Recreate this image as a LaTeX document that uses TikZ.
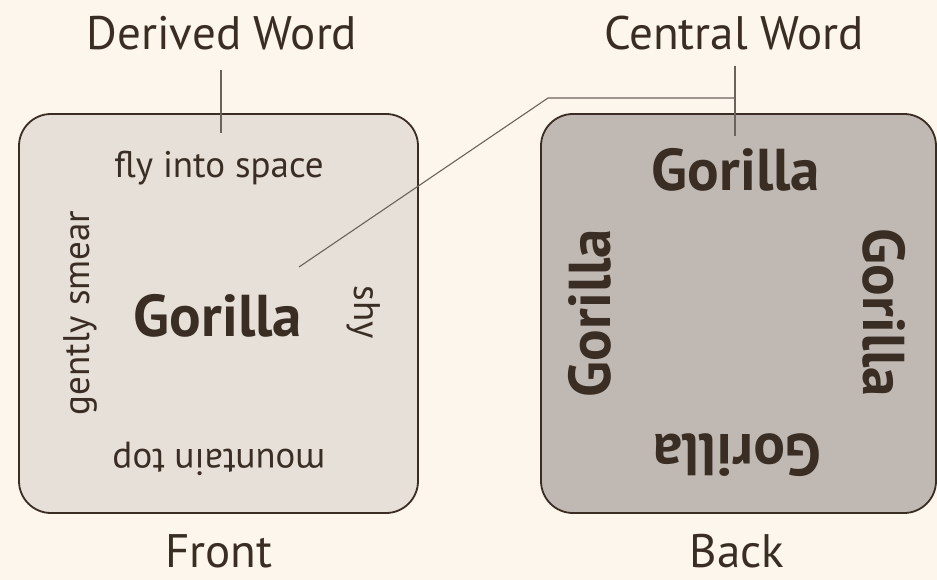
\documentclass[tikz,border=0pt]{standalone}
\usepackage{fontspec}
\setmainfont{PT Sans}
\definecolor{bg}{HTML}{FDF6EC}
\definecolor{ink}{HTML}{3A2E24}
\definecolor{frontfill}{HTML}{E7E0D8}
\definecolor{backfill}{HTML}{C0B8B2}
\definecolor{leader}{HTML}{6B625C}
\begin{document}
\begin{tikzpicture}[x=1pt,y=-1pt,
  card/.style={draw=ink,line width=1.8pt,rounded corners=32pt},
  caption/.style={text=ink,font=\fontsize{47}{52}\selectfont},
  word/.style={text=ink,font=\fontsize{37}{42}\selectfont},
  big/.style={text=ink,font=\fontsize{59}{64}\selectfont\bfseries},
  leaderline/.style={draw=leader,line width=1.1pt}]
\fill[bg] (0,0) rectangle (937,580);
\useasboundingbox (0,0) rectangle (937,580);
% cards
\draw[card,fill=frontfill] (19,114) rectangle (418,513);
\draw[card,fill=backfill] (541,114) rectangle (936,513);
% front face
\node[word] (fly) at (219,168) {fly into space};
\node[word,rotate=90] (smear) at (80,313) {gently smear};
\node[word,rotate=-90] (shy) at (364,312) {shy};
\node[word,rotate=180] (mtn) at (219,459) {mountain top};
\node[big] (gf) at (218,316) {Gorilla};
% back face
\node[big] (gt) at (736,170) {Gorilla};
\node[big,rotate=90] (gl) at (590,313) {Gorilla};
\node[big,rotate=-90] (gr) at (884,313) {Gorilla};
\node[big,rotate=180] (gb) at (737,455) {Gorilla};
% captions
\node[caption] (derived) at (222,33) {Derived Word};
\node[caption] (central) at (734,33) {Central Word};
\node[caption] (front) at (219,551) {Front};
\node[caption] (back) at (737,551) {Back};
% leader lines
\coordinate (dtop) at (221,70);
\coordinate (dend) at (221,133);
\coordinate (ctop) at (735,66);
\coordinate (cend) at (735,136);
\coordinate (knee) at (548,98);
\coordinate (cj) at (735,98);
\coordinate (fend) at (299,267);
\draw[leaderline] (dtop) -- (dend);
\draw[leaderline] (ctop) -- (cend);
\draw[leaderline] (cj) -- (knee) -- (fend);
\end{tikzpicture}
\end{document}
